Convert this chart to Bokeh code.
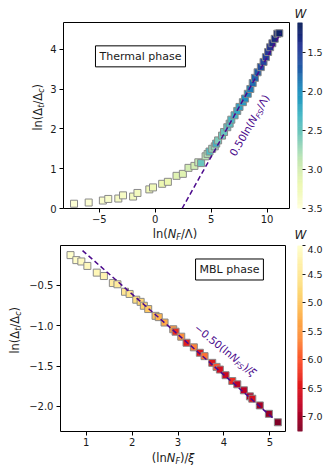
import math
import numpy as np
from bokeh.plotting import figure
from bokeh.models import (ColumnDataSource, LinearColorMapper, Label, Range1d, FixedTicker)
from bokeh.transform import transform
from bokeh.layouts import column, row
from bokeh.embed import file_html
from bokeh.resources import INLINE

# ---------------- data ----------------
# Thermal phase
top_x = [-7.26, -5.95, -4.68, -4.20, -3.30, -2.88, -1.98, -1.59, -0.53, -0.20, 0.62, 1.13,
         1.90, 2.47, 2.97, 3.50, 3.85, 4.10, 4.50, 4.68, 4.85, 5.09, 5.32, 5.45,
         5.62, 5.97, 6.15, 6.44, 6.65, 6.80,
         7.09, 7.33, 7.53, 7.83, 8.03, 8.27,
         8.50, 8.71, 8.91, 9.15, 9.44,
         9.68, 9.89, 10.09, 10.27, 10.47, 10.68, 10.91, 11.09]
top_y = [0.12, 0.15, 0.20, 0.24, 0.25, 0.33, 0.30, 0.39, 0.48, 0.53, 0.62, 0.67,
         0.82, 0.87, 1.02, 1.07, 1.16, 1.14, 1.31, 1.37, 1.43, 1.50, 1.56, 1.63,
         1.71, 1.83, 1.92, 2.04, 2.13, 2.23,
         2.34, 2.45, 2.55, 2.67, 2.76, 2.88,
         3.00, 3.15, 3.28, 3.42, 3.55,
         3.68, 3.80, 3.93, 4.05, 4.15, 4.26, 4.39, 4.40]
top_w = [3.45, 3.45, 3.40, 3.40, 3.35, 3.35, 3.30, 3.30, 3.25, 3.25, 3.20, 3.20,
         3.10, 3.10, 3.00, 3.00, 2.90, 2.50, 2.85, 2.80, 2.40, 2.70, 2.70, 2.30,
         2.60, 2.55, 2.50, 2.45, 2.40, 2.35,
         2.30, 2.20, 2.15, 2.10, 2.00, 1.95,
         1.90, 1.80, 1.75, 1.70, 1.60,
         1.55, 1.50, 1.45, 1.40, 1.35, 1.30, 1.25, 1.20]

# MBL phase
bot_x = [0.658, 0.785, 0.894, 1.025, 1.230, 1.385, 1.580, 1.680, 1.845, 1.945, 2.090, 2.185,
         2.255, 2.350, 2.510, 2.580, 2.706, 2.895, 2.946, 3.070, 3.185, 3.344, 3.475, 3.577,
         3.745, 3.839, 3.911, 4.035, 4.181, 4.290, 4.434, 4.565, 4.617, 4.780, 4.978, 5.174]
bot_y = [-0.126, -0.188, -0.205, -0.260, -0.343, -0.385, -0.472, -0.487, -0.580, -0.607, -0.678, -0.705,
         -0.753, -0.794, -0.878, -0.894, -0.961, -1.044, -1.074, -1.136, -1.211, -1.268, -1.335, -1.377,
         -1.460, -1.510, -1.543, -1.613, -1.685, -1.726, -1.800, -1.875, -1.904, -1.987, -2.091, -2.196]
bot_w = [4.00, 4.05, 4.10, 4.15, 4.20, 4.25, 4.40, 4.45, 4.55, 4.60, 4.75, 4.85,
         4.90, 5.00, 5.10, 5.20, 5.30, 5.50, 6.30, 5.60, 6.40, 5.70, 6.50, 5.80,
         6.50, 6.00, 6.60, 6.70, 6.30, 6.80, 6.85, 6.90, 6.60, 7.00, 7.10, 7.25]

# fitted scaling lines
top_fit_slope, top_fit_icpt, top_fit_x = 0.50, -1.20, [2.40, 11.20]
bot_fit_slope, bot_fit_icpt, bot_fit_x = -0.50, 0.39, [0.92, 5.08]

# ticks / ranges
top_xticks = [-5, 0, 5, 10]
top_yticks = [0, 1, 2, 3, 4]
bot_xticks = [1, 2, 3, 4, 5]
bot_yticks = [-2.0, -1.5, -1.0, -0.5]
top_cbar_ticks = [1.5, 2.0, 2.5, 3.0, 3.5]
bot_cbar_ticks = [4.0, 4.5, 5.0, 5.5, 6.0, 6.5, 7.0]
top_w_range = (1.12, 3.5)
bot_w_range = (4.0, 7.26)

# ---------------- styling helpers ----------------
FONT = "DejaVu Sans"
PURPLE = "#4b0a8c"
TXT = "#1a1a1a"

YlGnBu9 = ['#081d58', '#253494', '#225ea8', '#1d91c0', '#41b6c4', '#7fcdbb', '#c7e9b4', '#edf8b1', '#ffffd9']
YlOrRd9 = ['#800026', '#bd0026', '#e31a1c', '#fc4e2a', '#fd8d3c', '#feb24c', '#fed976', '#ffeda0', '#ffffcc']


def interp_palette(hexes, n=256):
    rgb = np.array([[int(h[i:i + 2], 16) for i in (1, 3, 5)] for h in hexes], float)
    t0 = np.linspace(0, 1, len(hexes))
    out = []
    for tt in np.linspace(0, 1, n):
        c = [int(round(np.interp(tt, t0, rgb[:, k]))) for k in range(3)]
        out.append('#%02x%02x%02x' % tuple(c))
    return out


CW = {'0': .636, '1': .636, '2': .636, '3': .636, '4': .636, '5': .636, '6': .636, '7': .636,
      '8': .636, '9': .636, '.': .318, 'l': .278, 'n': .634, '(': .390, ')': .390, '/': .337,
      'Λ': .684, 'Δ': .684, '−': .838, 'N': .748, 'F': .575, 'S': .635, 't': .392, 'c': .550,
      'ξ': .50, ' ': .318}
MID = 0.35  # middle of the em box above the baseline, in em


def rich(p, pieces, x, y, angle=0.0, size=11.5, color=TXT):
    """Label made of pieces (text, scale, baseline shift in em, italic); (x, y) is its centre."""
    widths = [sum(CW.get(ch, 0.6) for ch in t) * size * sc for (t, sc, dy, it) in pieces]
    pos = -sum(widths) / 2
    ca, sa = math.cos(angle), math.sin(angle)
    for (t, sc, dy, it), w in zip(pieces, widths):
        along = pos + w / 2
        perp = dy * size + MID * size * (sc - 1)
        p.add_layout(Label(x=x, y=y, x_offset=along * ca - perp * sa,
                           y_offset=along * sa + perp * ca,
                           angle=angle, text=t, text_font=FONT,
                           text_font_size=f"{size * sc:.1f}px",
                           text_font_style='italic' if it else 'normal',
                           text_color=color, text_align='center', text_baseline='middle'))
        pos += w


def minus(v, fmt):
    return (fmt % v).replace('-', '−')


def style(p, xticks, yticks, xfmt, yfmt):
    p.grid.visible = False
    p.outline_line_color = 'black'
    p.outline_line_width = 1
    for ax, ticks, fmt in ((p.xaxis[0], xticks, xfmt), (p.yaxis[0], yticks, yfmt)):
        ax.ticker = FixedTicker(ticks=ticks)
        ax.major_label_overrides = {t: minus(t, fmt) for t in ticks}
        ax.axis_line_color = None
        ax.major_tick_in = 0
        ax.major_tick_out = 4
        ax.major_tick_line_color = 'black'
        ax.major_tick_line_width = 1
        ax.minor_tick_line_color = None
        ax.major_label_text_font = FONT
        ax.major_label_text_font_size = '10px'
        ax.major_label_text_color = TXT
    p.xaxis[0].major_label_standoff = 2
    p.yaxis[0].major_label_standoff = 3


def strip(w, h):
    f = figure(width=w, height=h, x_range=Range1d(0, w), y_range=Range1d(0, h),
               x_axis_type=None, y_axis_type=None, min_border=0,
               min_border_left=0, min_border_right=0, min_border_top=0, min_border_bottom=0,
               output_backend="svg", toolbar_location=None)
    f.outline_line_color = None
    f.grid.visible = False
    return f


def cbar_fig(mapper, wrange, ticks, h, bottom):
    f = figure(width=28, height=h, x_range=Range1d(0, 1), y_range=Range1d(wrange[1], wrange[0]),
               x_axis_type=None, y_axis_location='right',
               min_border_left=0, min_border_right=22, min_border_top=0, min_border_bottom=bottom,
               output_backend="svg", toolbar_location=None)
    f.outline_line_color = None
    f.grid.visible = False
    edges = np.linspace(wrange[0], wrange[1], 181)
    src = ColumnDataSource(dict(b=edges[:-1], t=edges[1:], w=(edges[:-1] + edges[1:]) / 2))
    f.quad(left=0, right=1, bottom='b', top='t', source=src,
           fill_color=transform('w', mapper), line_color=transform('w', mapper), line_width=0.6)
    ax = f.yaxis[0]
    ax.ticker = FixedTicker(ticks=ticks)
    ax.major_label_overrides = {t: '%.1f' % t for t in ticks}
    ax.axis_line_color = None
    ax.major_tick_in = 0
    ax.major_tick_out = 3
    ax.major_tick_line_color = TXT
    ax.minor_tick_line_color = None
    ax.major_label_standoff = 2
    ax.major_label_text_font = FONT
    ax.major_label_text_font_size = '9.5px'
    ax.major_label_text_color = TXT
    return f


def w_label(f, x, y):
    f.add_layout(Label(x=x, y=y, text="W", text_font=FONT, text_font_size='12px',
                       text_font_style='italic', text_color=TXT, text_align='center',
                       text_baseline='middle'))


W_TOTAL = 325
ROW_H = 204
TICK_B = 18
CB_X = 300  # centre of colour bars (page px)

# ---------------- top panel ----------------
top_src = ColumnDataSource(dict(x=top_x, y=top_y, w=top_w))
top_map = LinearColorMapper(palette=interp_palette(YlGnBu9), low=top_w_range[0], high=top_w_range[1])

p1 = figure(width=250, height=ROW_H, x_range=Range1d(-8.2, 12.0), y_range=Range1d(0, 4.67),
            output_backend="svg", toolbar_location=None,
            min_border_left=14, min_border_right=8, min_border_top=0, min_border_bottom=TICK_B)
style(p1, top_xticks, top_yticks, '%d', '%d')
p1.scatter('x', 'y', source=top_src, marker='square', size=7,
           fill_color=transform('w', top_map), line_color='#8a8a8a', line_width=1)
tfx = np.array(top_fit_x)
p1.line(tfx, top_fit_slope * tfx + top_fit_icpt, line_color=PURPLE, line_width=1.5,
        line_dash="5 3")
p1.add_layout(Label(x=-1.32, y=3.82, text="Thermal phase", text_font=FONT,
                    text_font_size='11px', text_align='center', text_baseline='middle',
                    text_color=TXT, border_line_color='black', border_line_width=1,
                    background_fill_color='white', padding=4))
rich(p1, [("0.50ln(", 1, 0, False), ("N", 1, 0, True), ("FS", .7, -.22, True),
          ("/Λ)", 1, 0, False)],
     x=8.4, y=2.09, angle=math.radians(60), size=10.5, color=PURPLE)

cb1 = cbar_fig(top_map, top_w_range, top_cbar_ticks, ROW_H, TICK_B)

yl1 = strip(47, ROW_H)
rich(yl1, [("ln(Δ", 1, 0, False), ("t", .7, -.22, True), ("/Δ", 1, 0, False),
           ("c", .7, -.22, True), (")", 1, 0, False)],
     x=37, y=ROW_H - (ROW_H - TICK_B) / 2, angle=math.pi / 2, size=11.5)

w1 = strip(W_TOTAL, 22)
w_label(w1, CB_X, 9)

xl1 = strip(W_TOTAL, 19)
rich(xl1, [("ln(", 1, 0, False), ("N", 1, 0, True), ("F", .7, -.22, True), ("/Λ)", 1, 0, False)],
     x=174.5, y=12, size=11.5)
w_label(xl1, CB_X, 11)

# ---------------- bottom panel ----------------
bot_src = ColumnDataSource(dict(x=bot_x, y=bot_y, w=bot_w))
bot_map = LinearColorMapper(palette=interp_palette(YlOrRd9[::-1]), low=bot_w_range[0],
                            high=bot_w_range[1])

p2 = figure(width=272, height=ROW_H, x_range=Range1d(0.44, 5.34), y_range=Range1d(-2.31, -0.007),
            output_backend="svg", toolbar_location=None,
            min_border_left=35, min_border_right=12, min_border_top=0, min_border_bottom=TICK_B)
style(p2, bot_xticks, bot_yticks, '%d', '%.1f')
p2.scatter('x', 'y', source=bot_src, marker='square', size=7,
           fill_color=transform('w', bot_map), line_color='#8a8a8a', line_width=1)
bfx = np.array(bot_fit_x)
p2.line(bfx, bot_fit_slope * bfx + bot_fit_icpt, line_color=PURPLE, line_width=1.5,
        line_dash="5 3")
p2.add_layout(Label(x=4.12, y=-0.304, text="MBL phase", text_font=FONT,
                    text_font_size='11px', text_align='center', text_baseline='middle',
                    text_color=TXT, border_line_color='black', border_line_width=1,
                    background_fill_color='white', padding=4))
rich(p2, [("−0.50(ln", 1, 0, False), ("N", 1, 0, True), ("FS", .7, -.22, True),
          (")/", 1, 0, False), ("ξ", 1, 0, True)],
     x=4.03, y=-1.30, angle=math.radians(-39), size=10.5, color=PURPLE)

cb2 = cbar_fig(bot_map, bot_w_range, bot_cbar_ticks, ROW_H, TICK_B)

yl2 = strip(25, ROW_H)
rich(yl2, [("ln(Δ", 1, 0, False), ("t", .7, -.22, True), ("/Δ", 1, 0, False),
           ("c", .7, -.22, True), (")", 1, 0, False)],
     x=14, y=ROW_H - (ROW_H - TICK_B) / 2, angle=math.pi / 2, size=11.5)

xl2 = strip(W_TOTAL, 16)
rich(xl2, [("(ln", 1, 0, False), ("N", 1, 0, True), ("F", .7, -.22, True), (")/", 1, 0, False),
           ("ξ", 1, 0, True)],
     x=172.5, y=8, size=11.5)

layout = column(w1, row(yl1, p1, cb1), xl1, row(yl2, p2, cb2), xl2)
open("out.html", "w").write(file_html(layout, INLINE))
